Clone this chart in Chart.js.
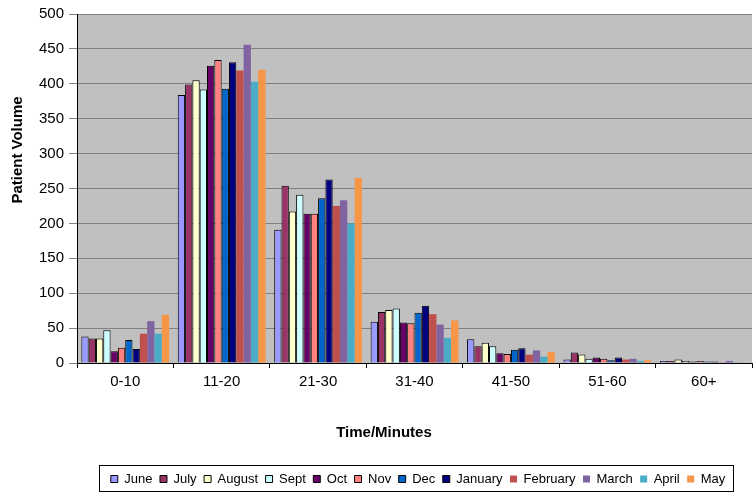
<!DOCTYPE html>
<html>
<head>
<meta charset="utf-8">
<script src="https://cdn.jsdelivr.net/npm/chart.js@4.4.1/dist/chart.umd.min.js"></script>
<style>
html,body{margin:0;padding:0;background:#fff;}
#wrap{width:753px;height:493px;position:relative;}
</style>
</head>
<body>
<div id="wrap"><canvas id="c" width="753" height="493"></canvas></div>
<script>
const categories = ['0-10','11-20','21-30','31-40','41-50','51-60','60+'];
const months = ['June','July','August','Sept','Oct','Nov','Dec','January','February','March','April','May'];
const june     = [38, 384, 191, 59, 34, 5, 3];
const july     = [35, 399, 254, 73, 24, 15, 3];
const august   = [35, 405, 217, 76, 29, 12, 5];
const sept     = [47, 392, 241, 78, 24, 6, 3];
const oct      = [17, 426, 214, 58, 14, 8, 2];
const nov      = [22, 434, 214, 57, 13, 6, 3];
const dec      = [33, 393, 236, 72, 19, 4, 2];
const january  = [20, 431, 263, 82, 21, 8, 2];
const february = [42, 419, 225, 70, 12, 5, 1];
const march    = [60, 456, 233, 55, 18, 6, 3];
const april    = [42, 403, 200, 36, 9, 3, 1];
const may      = [69, 420, 265, 61, 16, 4, 0];
const seriesValues = [june, july, august, sept, oct, nov, dec, january, february, march, april, may];
const yTicks = [0,50,100,150,200,250,300,350,400,450,500];
const xTitle = 'Time/Minutes';
const yTitle = 'Patient Volume';

const colors = ['#9999FF','#993366','#FFFFCC','#CCFFFF','#660066','#FF8080','#0066CC','#000080','#C0504D','#8064A2','#4BACC6','#F79646'];
const bordered = [true,true,true,true,true,true,true,true,false,false,false,false];

const FONT = "'Liberation Sans', Arial, sans-serif";
const LEG_PAD = 7.5;

const datasets = months.map((m,i)=>({
  label: m,
  data: seriesValues[i],
  backgroundColor: colors[i],
  borderColor: bordered[i] ? '#000000' : colors[i],
  borderWidth: bordered[i] ? 1 : 0,
  categoryPercentage: 0.91,
  barPercentage: 1.0
}));

const customPlugin = {
  id:'custom',
  afterLayout(chart){
    const lg = chart.legend;
    if(!lg || !lg.lineWidths) return;
    const lw = lg.lineWidths[0];
    const x0 = (lg.left + LEG_PAD + lg.right - lw) / 2;
    const x1 = x0 + lw - LEG_PAD;
    const shift = 418 - (x0 + x1) / 2;
    const h = lg.bottom - lg.top;
    lg.left += shift; lg.right += shift;
    lg.top = 465; lg.bottom = 465 + h;
    lg._boxL = x0 + shift; lg._boxR = x1 + shift;
  },
  beforeDraw(chart){
    const {ctx, chartArea:a} = chart;
    ctx.save();
    ctx.fillStyle = '#C0C0C0';
    ctx.fillRect(a.left, a.top, a.right-a.left, a.bottom-a.top);
    ctx.restore();
  },
  afterDraw(chart){
    const ctx = chart.ctx;
    const lg = chart.legend;
    ctx.save();
    if (lg && lg._boxL !== undefined) {
      ctx.strokeStyle = '#000';
      ctx.lineWidth = 1;
      const L = Math.round(lg._boxL - 12) + 0.5;
      const R = Math.round(lg._boxR + 8) + 0.5;
      ctx.strokeRect(L, 465.5, R - L, 26);
    }
    ctx.fillStyle = '#000';
    ctx.font = "bold 15px " + FONT;
    ctx.textAlign = 'center';
    ctx.textBaseline = 'middle';
    ctx.fillText(xTitle, 384, 433);
    ctx.translate(17.5, 150);
    ctx.rotate(-Math.PI/2);
    ctx.fillText(yTitle, 0, 0);
    ctx.restore();
  }
};

new Chart(document.getElementById('c'), {
  type:'bar',
  data:{labels:categories, datasets},
  options:{
    responsive:false,
    animation:false,
    devicePixelRatio:1,
    layout:{padding:{top:12,right:1,left:0,bottom:0}},
    plugins:{
      legend:{
        position:'bottom',
        labels:{
          font:{family:FONT,size:13},
          color:'#000',
          boxWidth:7,
          boxHeight:7,
          padding:LEG_PAD
        }
      },
      tooltip:{enabled:false}
    },
    scales:{
      x:{
        grid:{display:true, drawOnChartArea:false, drawTicks:true, tickLength:5, color:'#000', offset:true},
        border:{display:true,color:'#000',width:1},
        ticks:{font:{family:FONT,size:15},color:'#000',padding:5},
        title:{display:false},
        afterFit(s){ s.height = 99.5; }
      },
      y:{
        min:0,max:500,
        afterBuildTicks(s){ s.ticks = yTicks.map(v=>({value:v})); },
        grid:{color:'#808080', drawTicks:true, tickLength:8, lineWidth:1},
        border:{display:true,color:'#000',width:1},
        ticks:{font:{family:FONT,size:15},color:'#000',padding:5},
        title:{display:false},
        afterFit(s){ s.width = 77; }
      }
    }
  },
  plugins:[customPlugin]
});
</script>
</body>
</html>
